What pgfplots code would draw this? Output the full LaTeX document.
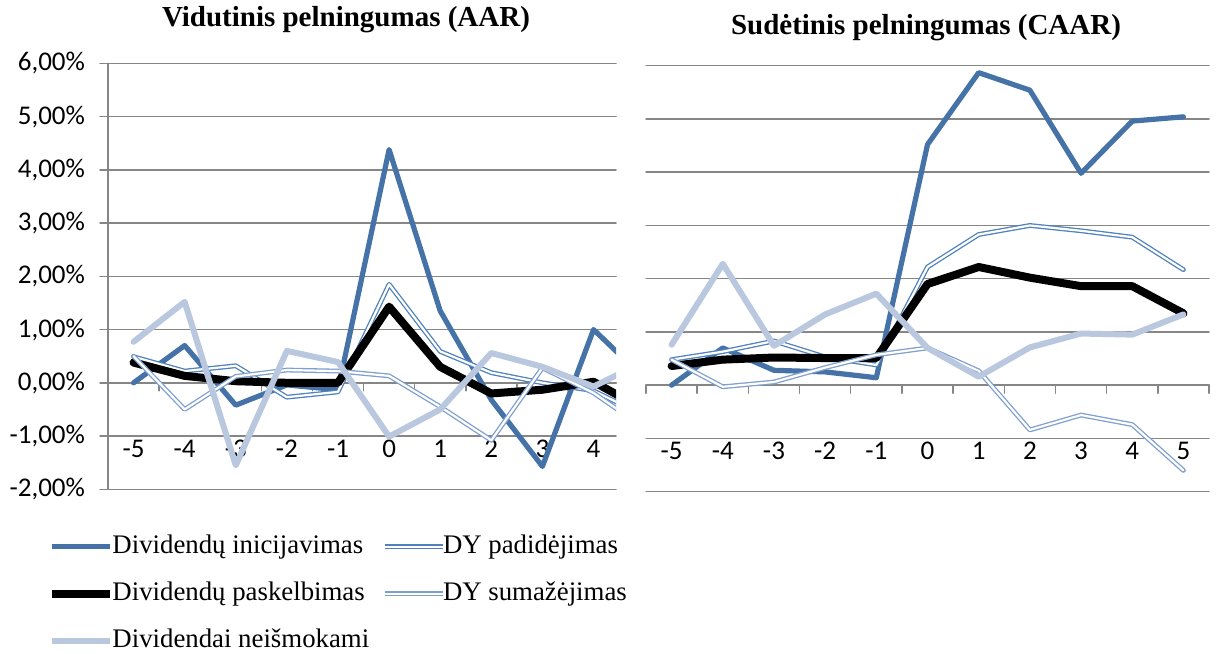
\documentclass[border=0pt]{standalone}
\usepackage{fontspec}
\setmainfont{Liberation Serif}
\newfontfamily\calibri{Carlito}
\usepackage{pgfplots}
\usepackage{pgfplotstable}
\pgfplotsset{compat=1.18}
\definecolor{cInit}{RGB}{69,114,167}
\definecolor{cUp}{RGB}{79,129,189}
\definecolor{cDown}{RGB}{127,159,207}
\definecolor{cNone}{RGB}{185,199,223}
\definecolor{cGrid}{RGB}{134,134,134}

\pgfplotstableread{
x   init   up     ann    down   none
-5  0.00   0.49   0.38   0.50   0.77
-4  0.70   0.22   0.13  -0.50   1.52
-3 -0.42   0.32   0.03   0.12  -1.55
-2 -0.04  -0.27   0.00   0.24   0.60
-1 -0.13  -0.17   0.00   0.22   0.39
0   4.38   1.85   1.43   0.13  -1.01
1   1.35   0.59   0.30  -0.45  -0.50
2  -0.32   0.19  -0.20  -1.08   0.56
3  -1.57   0.00  -0.13   0.28   0.30
4   1.00  -0.15   0.02  -0.19  -0.07
5   0.08  -0.62  -0.51  -0.85   0.40
}\aar

\pgfplotstableread{
x   init   up     ann    down   none
-5  0.00   0.48   0.36   0.48   0.76
-4  0.70   0.63   0.48  -0.03   2.28
-3  0.28   0.83   0.52   0.06   0.74
-2  0.25   0.53   0.51   0.33   1.33
-1  0.14   0.38   0.51   0.57   1.72
0   4.52   2.22   1.90   0.70   0.70
1   5.87   2.83   2.22   0.27   0.16
2   5.54   3.00   2.02  -0.84   0.71
3   3.98   2.90   1.86  -0.56   0.97
4   4.96   2.78   1.86  -0.74   0.95
5   5.04   2.17   1.35  -1.60   1.33
}\caar

\pgfplotsset{
  evstyle/.style={
    scale only axis, height=213pt,
    xmin=-5.5, ymin=-2, ymax=6,
    axis x line*=middle, axis y line*=left,
    xtick={-5,...,5},
    xticklabels={-5,-4,-3,-2,-1,0,1,2,3,4,5},
    minor xtick={-5.5,-4.5,...,5.5},
    ytick={-2,...,6},
    ymajorgrids, grid style={cGrid, line width=0.75pt},
    axis line style={cGrid, line width=0.75pt},
    tick style={cGrid, line width=0.75pt},
    major x tick style={draw=none},
    minor x tick style={draw=cGrid},
    minor tick length=4pt, major tick length=4pt,
    tick align=outside,
    xticklabel style={font=\calibri\fontsize{13.5}{16}\selectfont, anchor=center, yshift=-29pt, text=black},
    yticklabel style={font=\calibri\fontsize{13.5}{16}\selectfont, text=black, xshift=-4pt},
    line join=round, line cap=round,
  },
  sInit/.style={cInit, line width=2.6pt, no markers},
  sUp/.style={cUp, line width=0.65pt, double=white, double distance=1.1pt, no markers},
  sAnn/.style={black, line width=4pt, no markers},
  sDown/.style={cDown, line width=0.65pt, double=white, double distance=1.1pt, no markers},
  sNone/.style={cNone, line width=3pt, no markers},
}

\begin{document}
\begin{tikzpicture}
\path[use as bounding box] (0,0) rectangle (609pt,326.5pt);

\begin{axis}[evstyle,
  at={(54pt,81.85pt)}, anchor=south west,
  width=254pt, xmax=4.44,
  yticklabels={{-2,00\%},{-1,00\%},{0,00\%},{1,00\%},{2,00\%},{3,00\%},{4,00\%},{5,00\%},{6,00\%}},
  legend columns=2, legend cell align=left,
  legend image code/.code={\draw[#1] (0pt,0pt) -- (29pt,0pt);},
  legend style={at={(axis description cs:-0.118,-0.1045)}, anchor=north west,
    draw=none, fill=none, inner sep=0pt, font=\fontsize{13.4}{16}\selectfont,
    row sep=11pt, nodes={inner sep=0pt, text height=9.5pt, text depth=3pt},
    /tikz/every odd column/.append style={column sep=-1pt},
    /tikz/every even column/.append style={column sep=6.5pt}},
]
\addplot[sInit] table[x=x,y=init]{\aar};
\addlegendentry{Dividendų inicijavimas}
\addplot[sUp] table[x=x,y=up]{\aar};
\addlegendentry{DY padidėjimas}
\addplot[sAnn] table[x=x,y=ann]{\aar};
\addlegendentry{Dividendų paskelbimas}
\addplot[sDown] table[x=x,y=down]{\aar};
\addlegendentry{DY sumažėjimas}
\addplot[sNone] table[x=x,y=none]{\aar};
\addlegendentry{Dividendai neišmokami}
\end{axis}

\begin{axis}[evstyle,
  at={(323pt,80.65pt)}, anchor=south west,
  width=281.5pt, xmax=5.5,
  yticklabels={},
  y axis line style={draw=none},
  major y tick style={draw=none},
]
\addplot[sInit] table[x=x,y=init]{\caar};
\addplot[sUp] table[x=x,y=up]{\caar};
\addplot[sAnn] table[x=x,y=ann]{\caar};
\addplot[sDown] table[x=x,y=down]{\caar};
\addplot[sNone] table[x=x,y=none]{\caar};
\end{axis}

\node[font=\bfseries\fontsize{14.5}{17}\selectfont] at (173pt,316.5pt) {Vidutinis pelningumas (AAR)};
\node[font=\bfseries\fontsize{14.5}{17}\selectfont] at (463pt,312.5pt) {Sudėtinis pelningumas (CAAR)};
\end{tikzpicture}
\end{document}
